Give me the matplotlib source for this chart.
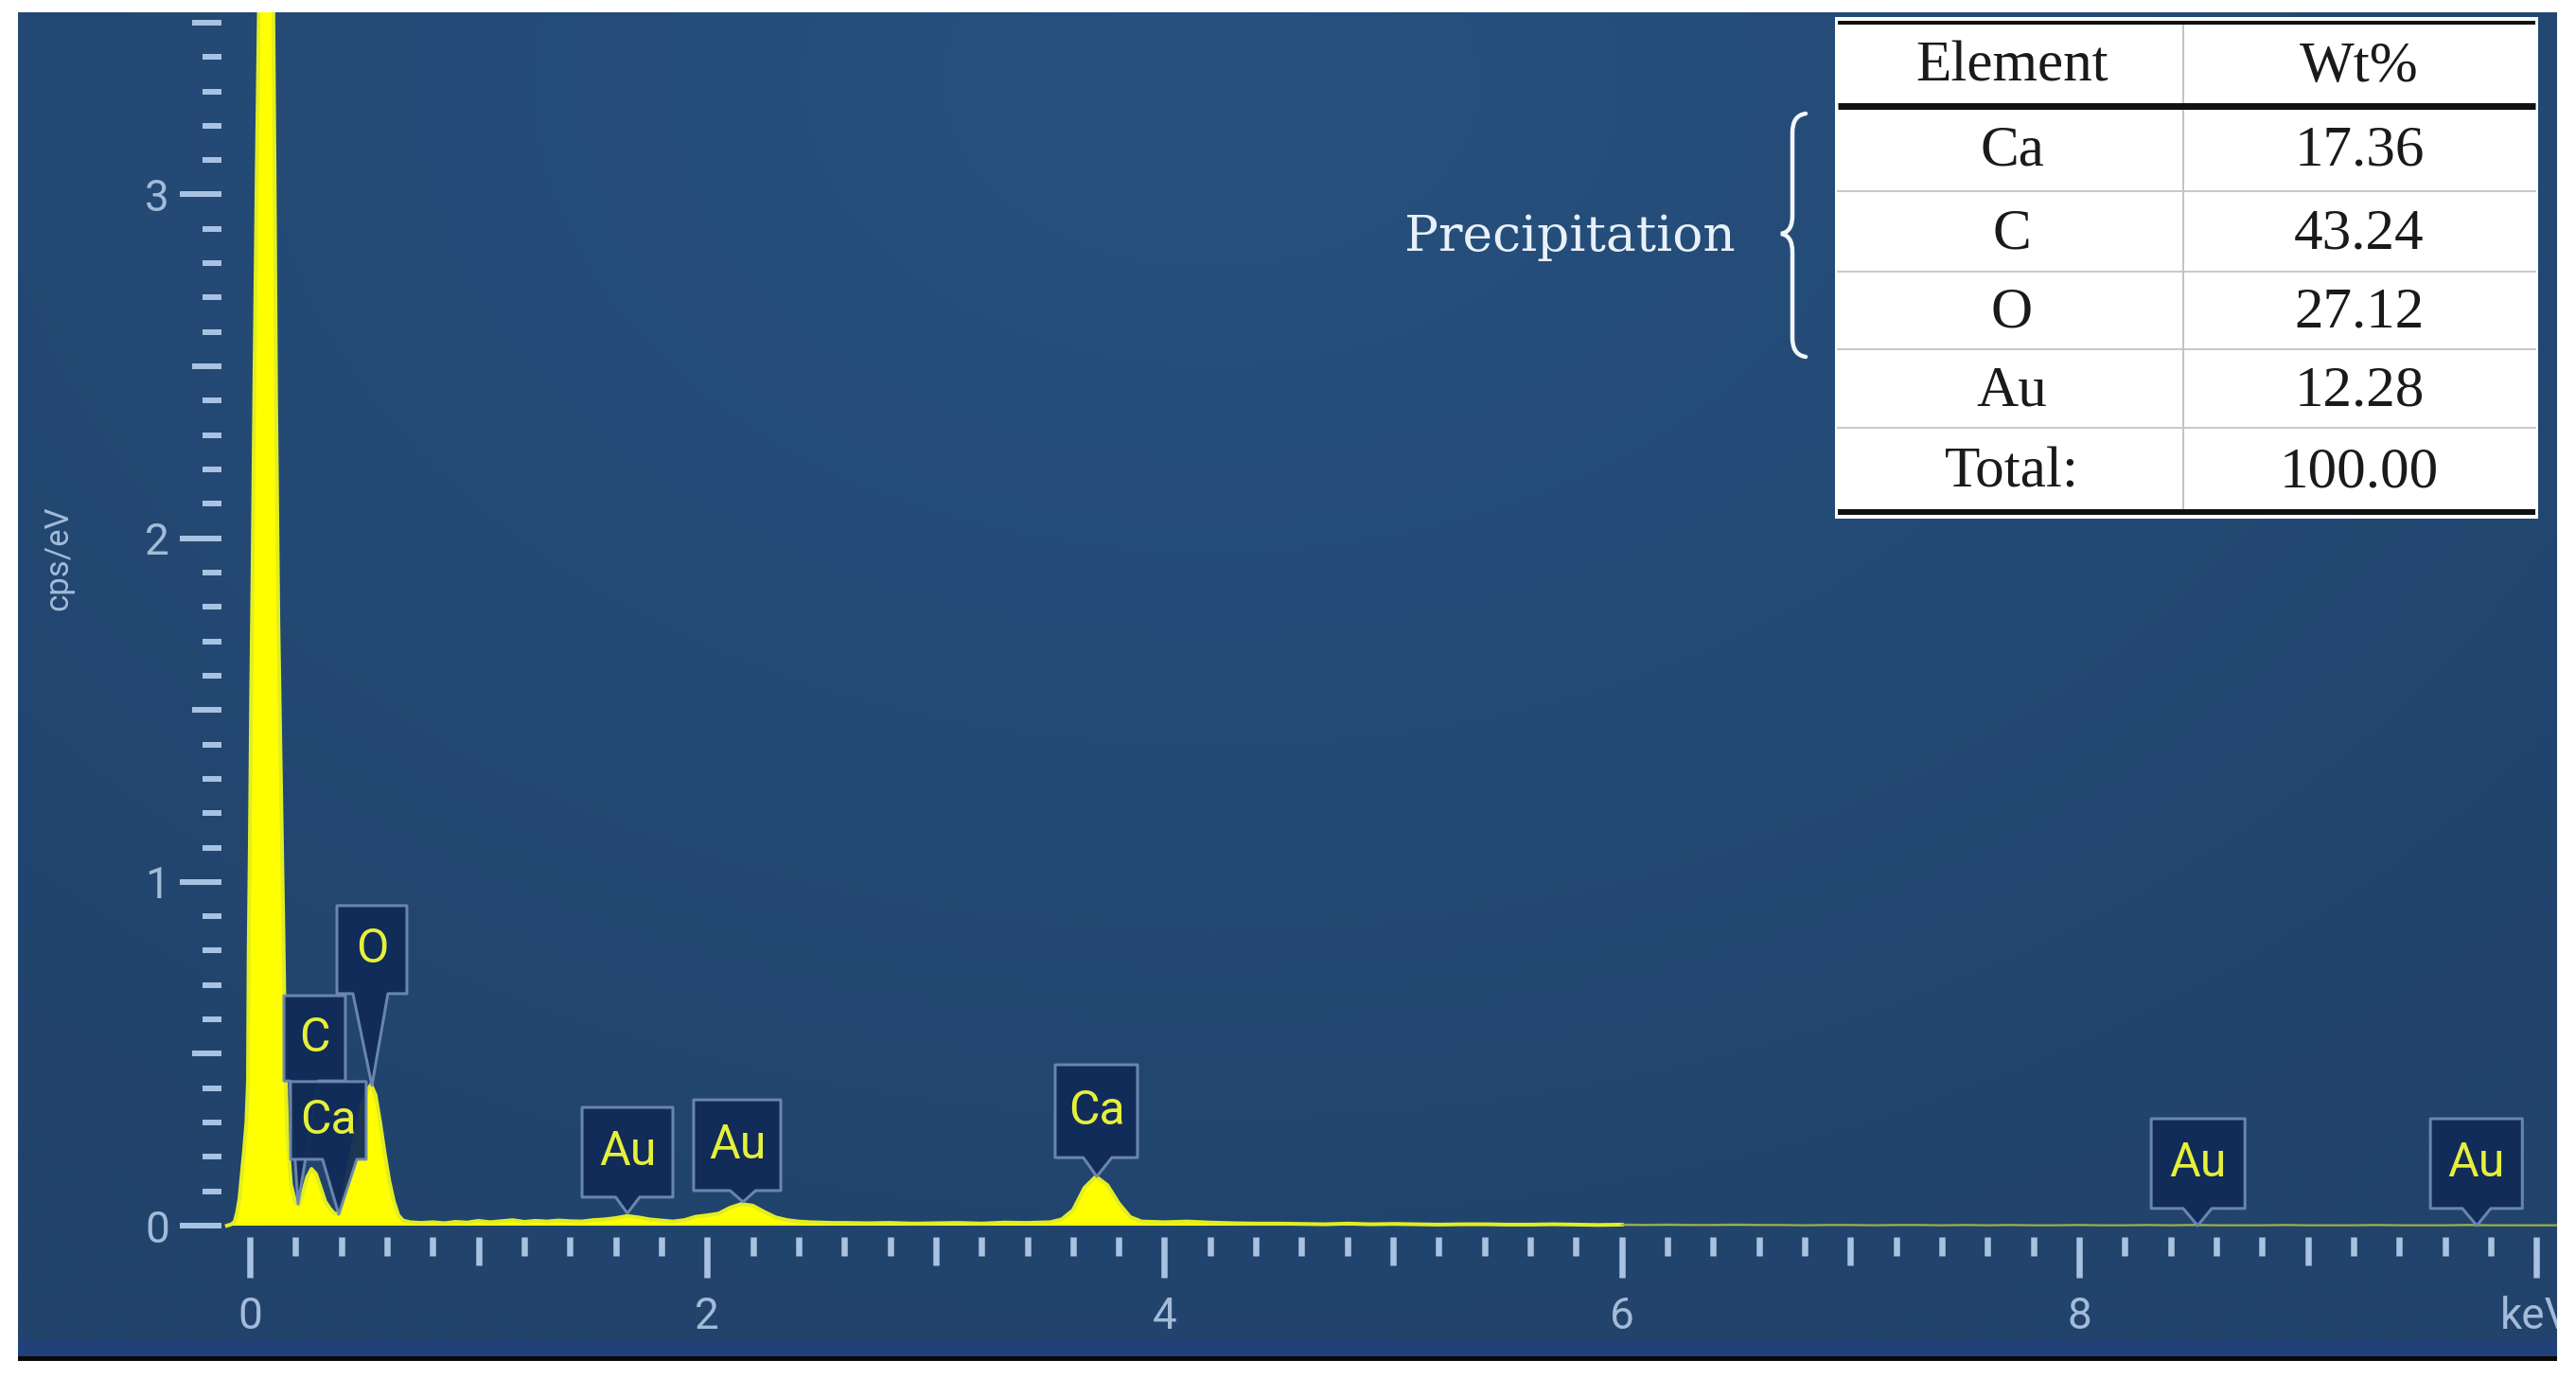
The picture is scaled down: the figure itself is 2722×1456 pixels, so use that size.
import numpy as np
import matplotlib
matplotlib.use('Agg')
import matplotlib.pyplot as plt
from matplotlib.patches import Rectangle, Polygon, PathPatch
from matplotlib.path import Path

# ---------------- data ----------------
energy_keV = [
    -0.100, -0.080, -0.066, -0.055, -0.045, -0.035, -0.025, -0.015, -0.008, -0.005,
    0.000, 0.006, 0.012, 0.020, 0.030, 0.045, 0.055, 0.065, 0.075, 0.085,
    0.095, 0.102, 0.108, 0.115, 0.125, 0.137, 0.147, 0.155, 0.165, 0.180,
    0.200, 0.215, 0.230, 0.250, 0.270, 0.290, 0.310, 0.330, 0.350, 0.370,
    0.390, 0.410, 0.430, 0.450, 0.470, 0.490, 0.510, 0.530, 0.550, 0.570,
    0.590, 0.610, 0.630, 0.650, 0.670, 0.700,
    0.75, 0.80, 0.85, 0.90, 0.95, 1.00, 1.05, 1.10, 1.15, 1.20,
    1.25, 1.30, 1.35, 1.40, 1.45, 1.50, 1.55, 1.60, 1.65, 1.70,
    1.75, 1.80, 1.85, 1.90, 1.95, 2.00, 2.05, 2.10, 2.15, 2.20,
    2.25, 2.30, 2.35, 2.40, 2.45, 2.50, 2.55, 2.60,
    2.7, 2.8, 2.9, 3.0, 3.1, 3.2, 3.3, 3.4, 3.5,
    3.55, 3.60, 3.65, 3.70, 3.75, 3.80, 3.85,
    3.9, 4.0, 4.1, 4.2, 4.3, 4.4, 4.5, 4.6, 4.7, 4.8,
    4.9, 5.0, 5.1, 5.2, 5.3, 5.4, 5.5, 5.6, 5.7, 5.8,
    5.9, 6.0, 6.1, 6.2, 6.3, 6.4, 6.5, 6.6, 6.7, 6.8,
    6.9, 7.0, 7.1, 7.2, 7.3, 7.4, 7.5, 7.6, 7.7, 7.8,
    7.9, 8.0, 8.1, 8.2, 8.3, 8.4, 8.5, 8.6, 8.7, 8.8,
    8.9, 9.0, 9.1, 9.2, 9.3, 9.4, 9.5, 9.6, 9.7, 9.8,
    9.9, 10.0, 10.1,
]
counts_cps = [
    0.000, 0.004, 0.012, 0.040, 0.080, 0.150, 0.220, 0.300, 0.420, 0.800,
    1.100, 1.550, 1.900, 2.450, 3.050, 3.800, 4.300, 4.600, 4.500, 4.300,
    4.000, 3.600, 3.100, 2.400, 1.750, 1.250, 0.850, 0.480, 0.250, 0.120,
    0.065, 0.060, 0.090, 0.140, 0.165, 0.150, 0.110, 0.070, 0.050, 0.035,
    0.035, 0.090, 0.160, 0.230, 0.290, 0.350, 0.390, 0.410, 0.380, 0.300,
    0.210, 0.130, 0.070, 0.030, 0.015, 0.010,
    0.008, 0.010, 0.007, 0.011, 0.009, 0.014, 0.010, 0.013, 0.016, 0.011,
    0.014, 0.012, 0.015, 0.013, 0.012, 0.016, 0.018, 0.022, 0.028, 0.024,
    0.018, 0.015, 0.012, 0.016, 0.026, 0.030, 0.035, 0.052, 0.063, 0.058,
    0.040, 0.024, 0.016, 0.012, 0.010, 0.009, 0.008, 0.008,
    0.007, 0.008, 0.006, 0.007, 0.008, 0.006, 0.009, 0.008, 0.010,
    0.018, 0.045, 0.110, 0.143, 0.118, 0.065, 0.025,
    0.012, 0.010, 0.012, 0.009, 0.007, 0.006, 0.006, 0.005, 0.004, 0.006,
    0.004, 0.005, 0.004, 0.003, 0.004, 0.004, 0.003, 0.003, 0.004, 0.003,
    0.002, 0.003, 0.002, 0.003, 0.002, 0.002, 0.003, 0.002, 0.002, 0.001,
    0.002, 0.002, 0.001, 0.002, 0.002, 0.001, 0.002, 0.001, 0.002, 0.001,
    0.001, 0.002, 0.001, 0.001, 0.002, 0.001, 0.002, 0.001, 0.001, 0.001,
    0.002, 0.001, 0.001, 0.001, 0.002, 0.001, 0.001, 0.001, 0.002, 0.001,
    0.001, 0.001, 0.001,
]

peak_names = ['C', 'Ca', 'O', 'Au', 'Au', 'Ca', 'Au', 'Au']
peak_tip_keV = [0.211, 0.389, 0.534, 1.651, 2.157, 3.704, 8.518, 9.739]
peak_tip_cps = [0.063, 0.033, 0.408, 0.036, 0.069, 0.143, 0.000, 0.000]

x_major_ticks = [0, 2, 4, 6, 8, 10]
x_major_labels = ['0', '2', '4', '6', '8', 'keV']
x_mid_ticks = [1, 3, 5, 7, 9]
y_major_ticks = [0, 1, 2, 3]
y_major_labels = ['0', '1', '2', '3']
y_mid_ticks = [0.5, 1.5, 2.5, 3.5]
y_label = 'cps/eV'

table_header = ['Element', 'Wt%']
table_elements = ['Ca', 'C', 'O', 'Au']
table_wt = [17.36, 43.24, 27.12, 12.28]
table_total_label = 'Total:'
table_total = 100.00
group_label = 'Precipitation'

# ---------------- layout (pixels of the 2722x1456 canvas) ----------------
W, H, DPI = 2722, 1456, 100
PT = 72.0 / DPI  # points per pixel

# callout boxes: (left keV, right keV, bottom cps, top cps, pointer base left, pointer base right)
callout_boxes = [
    (0.149, 0.418, 0.421, 0.669, 0.175, 0.300),
    (0.178, 0.509, 0.193, 0.419, 0.318, 0.468),
    (0.381, 0.687, 0.675, 0.931, 0.451, 0.604),
    (1.453, 1.850, 0.083, 0.344, 1.600, 1.705),
    (1.941, 2.322, 0.102, 0.366, 2.100, 2.212),
    (3.522, 3.882, 0.198, 0.468, 3.645, 3.770),
    (8.315, 8.725, 0.050, 0.311, 8.455, 8.580),
    (9.536, 9.938, 0.050, 0.311, 9.676, 9.800),
]

plt.rcParams['font.family'] = ['Roboto', 'DejaVu Sans']

fig = plt.figure(figsize=(W / DPI, H / DPI), dpi=DPI)
fig.patch.set_facecolor('white')

# background panel with subtle gradient
bx0, bx1, by0, by1 = 19, 2702, 13, 1417
bg = fig.add_axes([bx0 / W, 1 - by1 / H, (bx1 - bx0) / W, (by1 - by0) / H], zorder=0)
gx = np.linspace(0, 1, 400)
gy = np.linspace(0, 1, 220)
GX, GY = np.meshgrid(gx, gy)
dist = np.clip(np.sqrt(((GX - 0.47) / 0.75) ** 2 + ((GY - 0.05) / 1.0) ** 2), 0, 1)
c_in = np.array([39, 81, 127]) / 255.0
c_out = np.array([33, 67, 108]) / 255.0
img = c_in * (1 - dist[..., None]) + c_out * dist[..., None]
bg.imshow(img, aspect='auto', extent=[0, 1, 1, 0], interpolation='bilinear')
bg.set_xlim(0, 1)
bg.set_ylim(1, 0)
bg.axis('off')

# main axes
ax_l, ax_r, ax_t, ax_b = 234, 2702, 13, 1307
ax = fig.add_axes([ax_l / W, 1 - ax_b / H, (ax_r - ax_l) / W, (ax_b - ax_t) / H], zorder=1)
ax.patch.set_alpha(0)
ax.set_xlim(-0.124, 10.09)
ax.set_ylim(-0.033, 3.53)
for s in ax.spines.values():
    s.set_visible(False)

tick_col = '#a9c2e1'
lab_col = '#a3bbd8'

ax.fill_between(energy_keV, counts_cps, 0, color='#ffff00', lw=0, zorder=2)
split = next(i for i, e in enumerate(energy_keV) if e >= 6.0)
ax.plot(energy_keV[:split + 1], counts_cps[:split + 1], color='#e2ee22', lw=4.0 * PT,
        zorder=2.1, solid_joinstyle='round')
ax.plot(energy_keV[split:], counts_cps[split:], color='#9fb54a', lw=2.5 * PT, alpha=0.8,
        zorder=2.1, solid_joinstyle='round')

# ticks
ax.set_xticks(x_major_ticks)
ax.set_xticklabels(x_major_labels)
ax.set_xticks([i * 0.2 for i in range(0, 51) if i % 5 != 0], minor=True)
ax.set_yticks(y_major_ticks)
ax.set_yticklabels(y_major_labels)
ax.set_yticks([i * 0.1 for i in range(0, 36) if i % 5 != 0], minor=True)
ax.tick_params(axis='x', which='major', direction='out', length=43 * PT, width=6.5 * PT,
               color=tick_col, labelcolor=lab_col, labelsize=33, pad=14)
ax.tick_params(axis='x', which='minor', direction='out', length=20 * PT, width=6.5 * PT,
               color=tick_col)
ax.tick_params(axis='y', which='major', direction='out', length=44 * PT, width=6 * PT,
               color=tick_col, labelcolor=lab_col, labelsize=33, pad=8)
ax.tick_params(axis='y', which='minor', direction='out', length=20 * PT, width=6 * PT,
               color=tick_col)

secx = ax.secondary_xaxis('bottom')
secx.set_xticks(x_mid_ticks)
secx.tick_params(axis='x', direction='out', length=30 * PT, width=6.5 * PT, color=tick_col,
                 labelbottom=False)
for s in secx.spines.values():
    s.set_visible(False)
secy = ax.secondary_yaxis('left')
secy.set_yticks(y_mid_ticks)
secy.tick_params(axis='y', direction='out', length=31 * PT, width=6 * PT, color=tick_col,
                 labelleft=False)
for s in secy.spines.values():
    s.set_visible(False)

# callouts
box_fc = '#112b57'
box_ec = '#6f8ab2'
for name, tx, ty, (x0, x1, y0, y1, b0, b1) in zip(peak_names, peak_tip_keV, peak_tip_cps, callout_boxes):
    verts = [(x0, y0), (b0, y0), (tx, ty), (b1, y0), (x1, y0), (x1, y1), (x0, y1)]
    ax.add_patch(Polygon(verts, closed=True, fc=box_fc, ec=box_ec, lw=3 * PT, alpha=0.95,
                         zorder=3, joinstyle='round'))
    ax.text((x0 + x1) / 2, (y0 + y1) / 2, name, color='#e6f03a', fontsize=36,
            ha='center', va='center', zorder=4)

# overlay in pixel coordinates
ov = fig.add_axes([0, 0, 1, 1], zorder=5)
ov.set_xlim(0, W)
ov.set_ylim(H, 0)
ov.axis('off')

# right mask (clips "keV")
ov.add_patch(Rectangle((bx1, 0), W - bx1, H, fc='white', ec='none', zorder=1))
# bottom strip and black line
ov.add_patch(Rectangle((bx0, 1417), bx1 - bx0, 16, fc='#22407a', ec='none', zorder=1))
ov.add_patch(Rectangle((bx0, 1433), bx1 - bx0, 5, fc='#0a0a0a', ec='none', zorder=1))

# y label
ov.text(62, 590, y_label, rotation=90, ha='center', va='center', color=lab_col, fontsize=25)

# table
tl, tr, tt, tb = 1939, 2682, 18, 548
ov.add_patch(Rectangle((tl, tt), tr - tl, tb - tt, fc='white', ec='none', zorder=2))
row_lines = [202, 287, 369, 452]
for yy in row_lines:
    ov.plot([1942, 2679], [yy, yy], color='#c9c9c9', lw=2 * PT, zorder=3)
ov.plot([2307, 2307], [24, 541], color='#c4c4c4', lw=2 * PT, zorder=3)
ov.plot([1942, 2679], [24, 24], color='#111111', lw=4 * PT, zorder=4, solid_capstyle='butt')
ov.plot([1942, 2679], [112, 112], color='#111111', lw=7 * PT, zorder=4, solid_capstyle='butt')
ov.plot([1942, 2679], [541, 541], color='#111111', lw=6 * PT, zorder=4, solid_capstyle='butt')

serif = ['Liberation Serif', 'DejaVu Serif']
col_c = [2126, 2493]
row_c = [68, 157, 244.5, 328, 410.5, 496.5]
cells = [table_header] + [[e, f'{v:.2f}'] for e, v in zip(table_elements, table_wt)] + \
        [[table_total_label, f'{table_total:.2f}']]
for r, row in enumerate(cells):
    for c, txt in enumerate(row):
        ov.text(col_c[c], row_c[r] + 3, txt, family=serif, fontsize=44, color='#1a1a1a',
                ha='center', va='center', zorder=5)

# group label + brace
ov.text(1659, 265, group_label, family=['DejaVu Serif'], fontsize=38.5, color='#e9f0f8',
        ha='center', va='baseline', zorder=5)
brace = Path(
    [(1908, 120), (1894, 122), (1894, 140), (1894, 228), (1894, 245), (1882, 247),
     (1894, 249), (1894, 266), (1894, 357), (1894, 375), (1908, 377)],
    [Path.MOVETO, Path.CURVE3, Path.CURVE3, Path.LINETO, Path.CURVE3, Path.CURVE3,
     Path.CURVE3, Path.CURVE3, Path.LINETO, Path.CURVE3, Path.CURVE3])
ov.add_patch(PathPatch(brace, fc='none', ec='#f0f6fc', lw=4.5 * PT, zorder=5, capstyle='round'))

fig.savefig('out.png', dpi=DPI, facecolor='white')
